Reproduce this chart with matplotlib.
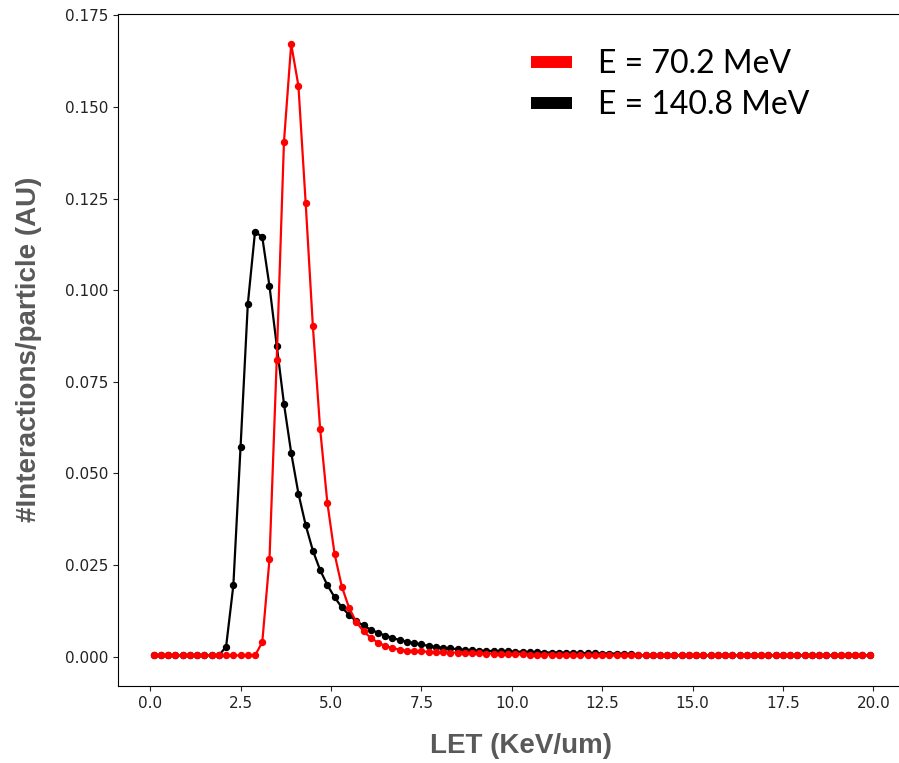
import numpy as np
import matplotlib
matplotlib.use("Agg")
import matplotlib.pyplot as plt
from matplotlib.lines import Line2D

# LET bin centres (KeV/um)
let_bins = np.round(np.arange(0.1, 20.0, 0.2), 1)

# Interactions per particle, 70.2 MeV beam
e70_counts = [
    0.0003, 0.0003, 0.0003, 0.0003, 0.0003, 0.0003, 0.0003, 0.0003, 0.0003, 0.0003,   # 0.1-1.9
    0.0003, 0.0003, 0.0003, 0.0003, 0.0003, 0.0039, 0.0266, 0.0810, 0.1405, 0.1672,   # 2.1-3.9
    0.1558, 0.1239, 0.0901, 0.0622, 0.0420, 0.0280, 0.0191, 0.0133, 0.0094, 0.0069,   # 4.1-5.9
    0.0051, 0.0038, 0.0029, 0.0023, 0.0019, 0.0016, 0.0015, 0.0014, 0.0013, 0.0012,   # 6.1-7.9
    0.0012, 0.0011, 0.0011, 0.0010, 0.0009, 0.0009, 0.0008, 0.0008, 0.0007, 0.0006,   # 8.1-9.9
    0.0006, 0.0006, 0.0005, 0.0005, 0.0005, 0.0005, 0.0005, 0.0004, 0.0004, 0.0004,   # 10.1-11.9
    0.0004, 0.0004, 0.0004, 0.0003, 0.0003, 0.0003, 0.0003, 0.0003, 0.0003, 0.0003,   # 12.1-13.9
    0.0003, 0.0003, 0.0003, 0.0003, 0.0003, 0.0003, 0.0003, 0.0003, 0.0003, 0.0003,   # 14.1-15.9
    0.0003, 0.0003, 0.0003, 0.0003, 0.0003, 0.0003, 0.0003, 0.0003, 0.0003, 0.0003,   # 16.1-17.9
    0.0003, 0.0003, 0.0003, 0.0003, 0.0003, 0.0003, 0.0003, 0.0003, 0.0003, 0.0003,   # 18.1-19.9
]

# Interactions per particle, 140.8 MeV beam
e140_counts = [
    0.0003, 0.0003, 0.0003, 0.0003, 0.0003, 0.0003, 0.0003, 0.0003, 0.0003, 0.0003,   # 0.1-1.9
    0.0027, 0.0194, 0.0573, 0.0962, 0.1160, 0.1145, 0.1011, 0.0849, 0.0690, 0.0556,   # 2.1-3.9
    0.0445, 0.0359, 0.0289, 0.0236, 0.0195, 0.0162, 0.0134, 0.0114, 0.0096, 0.0085,   # 4.1-5.9
    0.0073, 0.0065, 0.0057, 0.0051, 0.0045, 0.0041, 0.0036, 0.0033, 0.0029, 0.0026,   # 6.1-7.9
    0.0024, 0.0022, 0.0020, 0.0018, 0.0017, 0.0016, 0.0015, 0.0015, 0.0014, 0.0014,   # 8.1-9.9
    0.0013, 0.0013, 0.0012, 0.0012, 0.0011, 0.0011, 0.0011, 0.0010, 0.0010, 0.0010,   # 10.1-11.9
    0.0009, 0.0009, 0.0008, 0.0008, 0.0008, 0.0007, 0.0007, 0.0003, 0.0003, 0.0003,   # 12.1-13.9
    0.0003, 0.0003, 0.0003, 0.0003, 0.0003, 0.0003, 0.0003, 0.0003, 0.0003, 0.0003,   # 14.1-15.9
    0.0003, 0.0003, 0.0003, 0.0003, 0.0003, 0.0003, 0.0003, 0.0003, 0.0003, 0.0003,   # 16.1-17.9
    0.0003, 0.0003, 0.0003, 0.0003, 0.0003, 0.0003, 0.0003, 0.0003, 0.0003, 0.0003,   # 18.1-19.9
]

series_labels = ["E = 70.2 MeV", "E = 140.8 MeV"]
series_colors = ["#ff0000", "#000000"]

fig = plt.figure(figsize=(8.99, 7.63), dpi=100)
ax = fig.add_axes([118 / 899, 77 / 763, 787.5 / 899, 672.5 / 763])

ax.plot(let_bins, e140_counts, "o-", color=series_colors[1], lw=1.6, ms=4.3, zorder=2)
ax.plot(let_bins, e70_counts, "o-", color=series_colors[0], lw=1.6, ms=4.3, zorder=3)

ax.set_xticks(np.arange(0, 20.1, 2.5))
ax.set_yticks(np.arange(0, 0.176, 0.025))
ax.xaxis.set_major_formatter(matplotlib.ticker.FormatStrFormatter("%.1f"))
ax.yaxis.set_major_formatter(matplotlib.ticker.FormatStrFormatter("%.3f"))
ax.tick_params(labelsize=11, colors="#222222")

label_font = dict(family="Liberation Sans", weight="bold", size=20, color="#595959")
ax.set_xlabel("LET (KeV/um)", **label_font)
ax.set_ylabel("#Interactions/particle (AU)", **label_font)
ax.xaxis.set_label_coords(0.512, -0.07)
ax.yaxis.set_label_coords(-0.0965, 0.5)

handles = [Line2D([], [], color=c, lw=8.6, solid_capstyle="butt") for c in series_colors]
ax.legend(handles, series_labels, loc="upper left", bbox_to_anchor=(0.524, 0.947),
          frameon=False, prop=dict(family="Lato", size=23), handlelength=1.3,
          handletextpad=0.8, labelspacing=0.35, borderpad=0, borderaxespad=0)

fig.savefig("out.png", dpi=100)
